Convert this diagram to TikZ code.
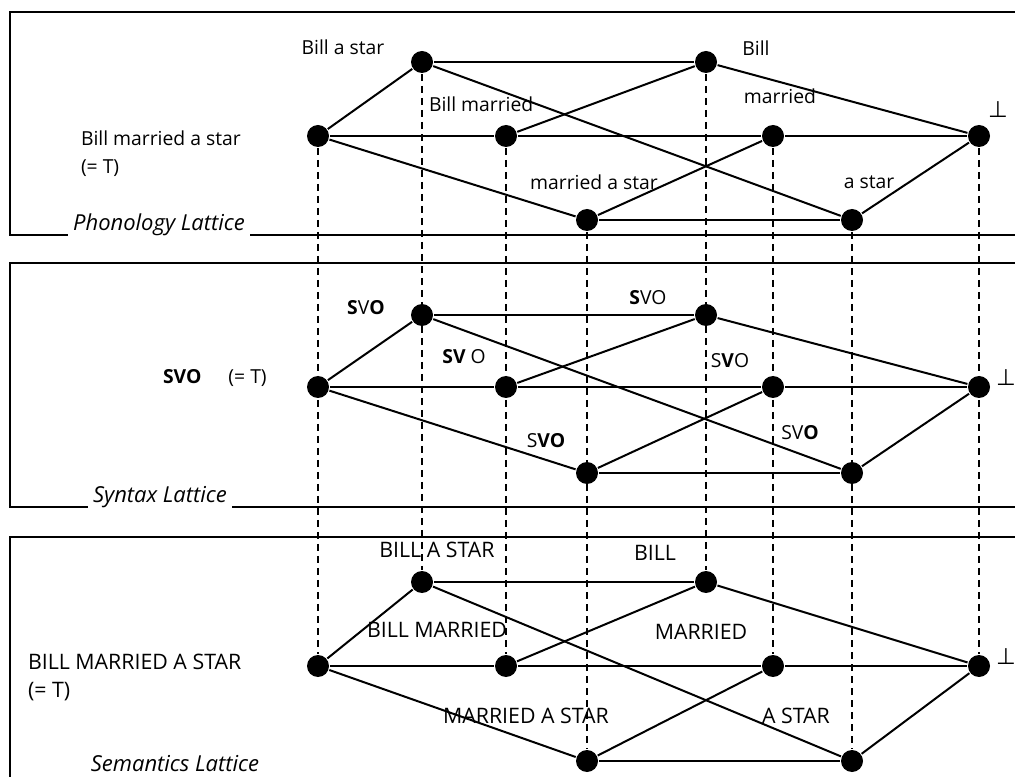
\documentclass[tikz,border=0pt]{standalone}
\usepackage{fontspec}
\setmainfont{Open Sans}
\newfontfamily\symfont{DejaVu Sans}
\usetikzlibrary{calc}

\begin{document}
\begin{tikzpicture}[x=0.75pt, y=-0.75pt, line width=1.5pt,
    every node/.style={inner sep=0pt, font=\fontsize{14.5}{21}\selectfont},
    dot/.style={circle, fill=black, minimum size=16.5pt},
    title/.style={font=\fontsize{16.5}{19}\selectfont\itshape, fill=white, inner xsep=4pt, inner ysep=3pt},
    caps/.style={font=\fontsize{16}{21}\selectfont},
    bot/.style={font=\fontsize{17}{19}\selectfont\symfont},
    link/.style={line width=1.2pt, dash pattern=on 5pt off 4pt}]
                \useasboundingbox (0,0) rectangle (1015,777);
                \clip (0,0) rectangle (1015,777);
                \foreach \ya/\yb in {12/235, 263/507, 537/781} {
                    \draw (10,\ya) rectangle (1040,\yb);
                }
                \node[title] (tP) at (159,225) {Phonology Lattice};
                \node[title] (tS) at (160,497) {Syntax Lattice};
                \node[title] (tM) at (175,764) {Semantics Lattice};
                \foreach \L/\ya/\yb/\yc in {P/62/136/220, S/315/387/473, M/582/666/761} {
                    \node[dot] (\L1) at (318,\yb) {};
                    \node[dot] (\L2) at (422,\ya) {};
                    \node[dot] (\L3) at (506,\yb) {};
                    \node[dot] (\L4) at (587,\yc) {};
                    \node[dot] (\L5) at (706,\ya) {};
                    \node[dot] (\L6) at (773,\yb) {};
                    \node[dot] (\L7) at (852,\yc) {};
                    \node[dot] (\L8) at (979,\yb) {};
                }
                \foreach \L in {P,S,M} {
                    \foreach \i/\j in {1/2,1/3,1/4,2/5,2/7,3/5,3/6,4/6,4/7,5/8,6/8,7/8} {
                        \draw (\L\i) -- (\L\j);
                    }
                }
                \foreach \i in {1,...,8} {
                    \draw[link] (P\i) -- (M\i);
                }
                % phonology
                \node[anchor=west, align=left] (p1) at (80,154) {Bill married a star\\(= T)};
                \node (p2) at (343,47) {Bill a star};
                \node[anchor=west] (p3) at (428,104) {Bill married};
                \node (p4) at (594,182) {married a star};
                \node (p5) at (756,48) {Bill};
                \node (p6) at (780,96) {married};
                \node (p7) at (869,182) {a star};
                \node[bot] (p8) at (998,110) {⊥};
                % syntax
                \node[anchor=west] (s1) at (162,378) {\textbf{SVO}\hspace{1.4em}(= T)};
                \node (s2) at (366,308) {\textbf{S}V\textbf{O}};
                \node (s3) at (464,357) {\textbf{SV} O};
                \node (s4) at (546,441) {S\textbf{VO}};
                \node (s5) at (648,298) {\textbf{S}VO};
                \node (s6) at (730,361) {S\textbf{V}O};
                \node (s7) at (800,433) {SV\textbf{O}};
                \node[bot] (s8) at (1006,378) {⊥};
                % semantics
                \node[caps, anchor=west, align=left] (m1) at (27,677) {BILL MARRIED A STAR\\(= T)};
                \node[caps] (m2) at (437,550) {BILL A STAR};
                \node[caps] (m3) at (437,630) {BILL MARRIED};
                \node[caps] (m4) at (526,716) {MARRIED A STAR};
                \node[caps] (m5) at (655,553) {BILL};
                \node[caps] (m6) at (701,632) {MARRIED};
                \node[caps] (m7) at (796,716) {A STAR};
                \node[bot] (m8) at (1006,657) {⊥};
            \end{tikzpicture}
\end{document}
